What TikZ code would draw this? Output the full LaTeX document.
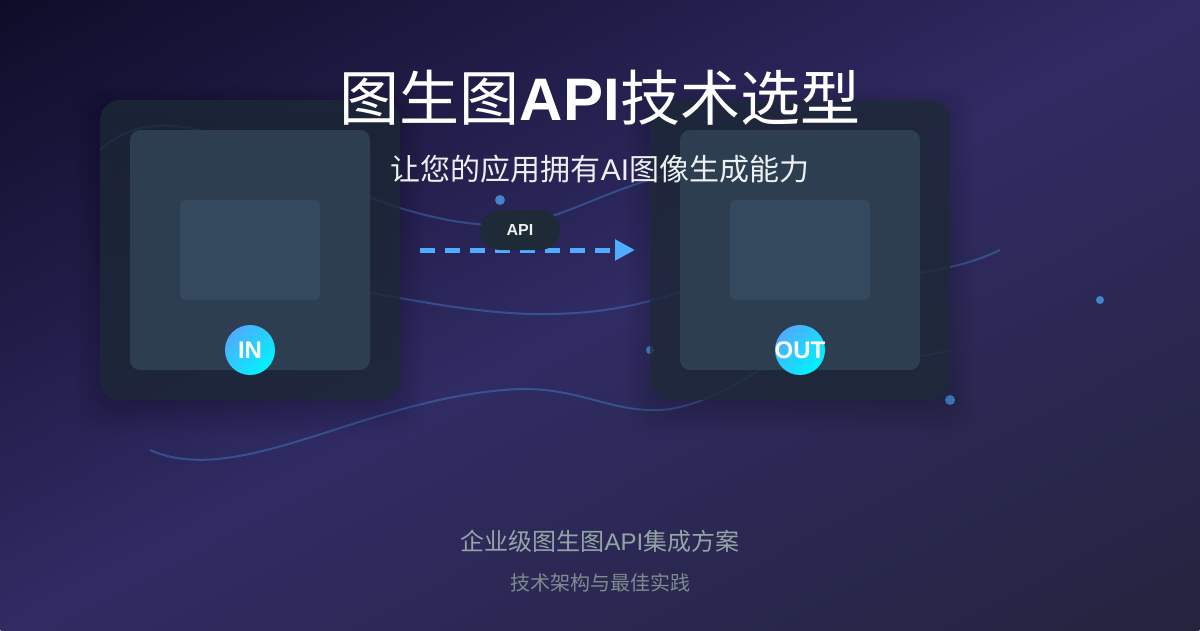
\documentclass[tikz,border=0pt]{standalone}
\usepackage{fontspec}
\usetikzlibrary{arrows.meta}
\setmainfont{Liberation Sans}
\newfontfamily\cjk{Noto Sans CJK SC}
\newcommand{\lat}[1]{{\rmfamily #1}}
\definecolor{bgdark}{HTML}{0F0C29}
\definecolor{bgmid}{HTML}{302B63}
\definecolor{bgend}{HTML}{24243E}
\definecolor{cardcol}{HTML}{1E2A38}
\definecolor{innercol}{HTML}{2C3E50}
\definecolor{corecol}{HTML}{34495E}
\definecolor{flowcol}{HTML}{4FACFE}
\definecolor{cyancol}{HTML}{00F2FE}
\definecolor{softcol}{HTML}{ECF0F1}
\definecolor{capcol}{HTML}{95A5A6}
\definecolor{subcapcol}{HTML}{7F8C8D}
\pgfdeclarehorizontalshading{bgshade}{100bp}{color(0bp)=(bgdark); color(50bp)=(bgmid); color(100bp)=(bgend)}

\begin{document}
\begin{tikzpicture}[x=1pt,y=-1pt]
    \tikzstyle{every node}=[inner sep=0pt,outer sep=0pt]
    \tikzstyle{wave}=[flowcol,line width=2pt,opacity=.3]
    \tikzstyle{spot}=[fill=flowcol,opacity=.7]
    \tikzstyle{card}=[fill=cardcol,opacity=.75,rounded corners=20pt]
    \tikzstyle{inner}=[fill=innercol,rounded corners=10pt]
    \tikzstyle{core}=[fill=corecol,rounded corners=5pt]
    \tikzstyle{badge}=[circle,minimum size=50pt,left color=flowcol,right color=cyancol,shading angle=45]
    \tikzstyle{badgetext}=[text=white,font=\bfseries\fontsize{24pt}{28pt}\selectfont]
    \useasboundingbox (0,0) rectangle (1200,630);
    % background
    \begin{scope}
        \clip (-3,-3) rectangle (1203,633);
        \begin{scope}[transform canvas={cm={11.9552,-6.2765,11.9552,6.2765,(600pt,-315pt)}}]
            \node (bgfill) at (0,0) {\pgfuseshading{bgshade}};
        \end{scope}
    \end{scope}
    % waves
    \draw [wave] (100,150) .. controls (125,127) and (160,118) .. (210,133) .. controls (270,151) and (330,185) .. (400,208) .. controls (440,220) and (480,228) .. (520,224) .. controls (570,216) and (610,187) .. (680,172);
    \draw [wave] (300,280) .. controls (380,293) and (470,315) .. (545,314) .. controls (600,314) and (640,305) .. (680,292) .. controls (750,270) and (850,285) .. (920,273) .. controls (950,268) and (975,262) .. (1000,250);
    \draw [wave] (150,450) .. controls (240,490) and (370,395) .. (520,389) .. controls (580,388) and (610,412) .. (660,410) .. controls (695,408) and (730,388) .. (760,370) .. controls (790,350) and (880,370) .. (950,350);
    % dots
    \fill [spot] (500,200) circle (5);
    \fill [spot] (650,350) circle (4);
    \fill [spot] (950,400) circle (5);
    \fill [spot] (1100,300) circle (4);
    % shadows
    \foreach \xo in {100,650}{
        \foreach \s in {-8,-4,...,24}{
            \fill [black,opacity=.02,rounded corners=20pt] (\xo-\s,100-\s+10) rectangle (\xo+300+\s,400+\s+10);
        }
    }
    % input side
    \fill [card] (100,100) rectangle (400,400);
    \fill [inner] (130,130) rectangle (370,370);
    \fill [core] (180,200) rectangle (320,300);
    \node [badge] (inbadge) at (250,350) {};
    \node [badgetext] (inlabel) at (inbadge) {IN};
    % output side
    \fill [card] (650,100) rectangle (950,400);
    \fill [inner] (680,130) rectangle (920,370);
    \fill [core] (730,200) rectangle (870,300);
    \node [badge] (outbadge) at (800,350) {};
    \node [badgetext] (outlabel) at (outbadge) {OUT};
    % arrow and its label
    \coordinate (flowstart) at (420,250);
    \coordinate (flowend) at (635,250);
    \draw [flowcol,line width=5pt,dash pattern=on 15pt off 10pt,-{Triangle[length=20pt,width=20pt]}] (flowstart) -- (flowend);
    \fill [fill=cardcol,rounded corners=20pt] (480,210) rectangle (560,250);
    \node [text=softcol,font=\bfseries\fontsize{16pt}{20pt}\selectfont,anchor=base] (apilabel) at (520,235) {API};
    % texts
    \node [text=white,anchor=base,font=\cjk\fontsize{60pt}{72pt}\selectfont] (title) at (600,120) {图生图{\rmfamily\bfseries API}技术选型};
    \node [text=softcol,anchor=base,font=\cjk\fontsize{30pt}{36pt}\selectfont] (subtitle) at (600,180) {让您的应用拥有\lat{AI}图像生成能力};
    \node [text=capcol,anchor=base,font=\cjk\fontsize{24pt}{30pt}\selectfont] (caption) at (600,550) {企业级图生图\lat{API}集成方案};
    \node [text=subcapcol,anchor=base,font=\cjk\fontsize{20pt}{24pt}\selectfont] (subcaption) at (600,590) {技术架构与最佳实践};
\end{tikzpicture}
\end{document}
